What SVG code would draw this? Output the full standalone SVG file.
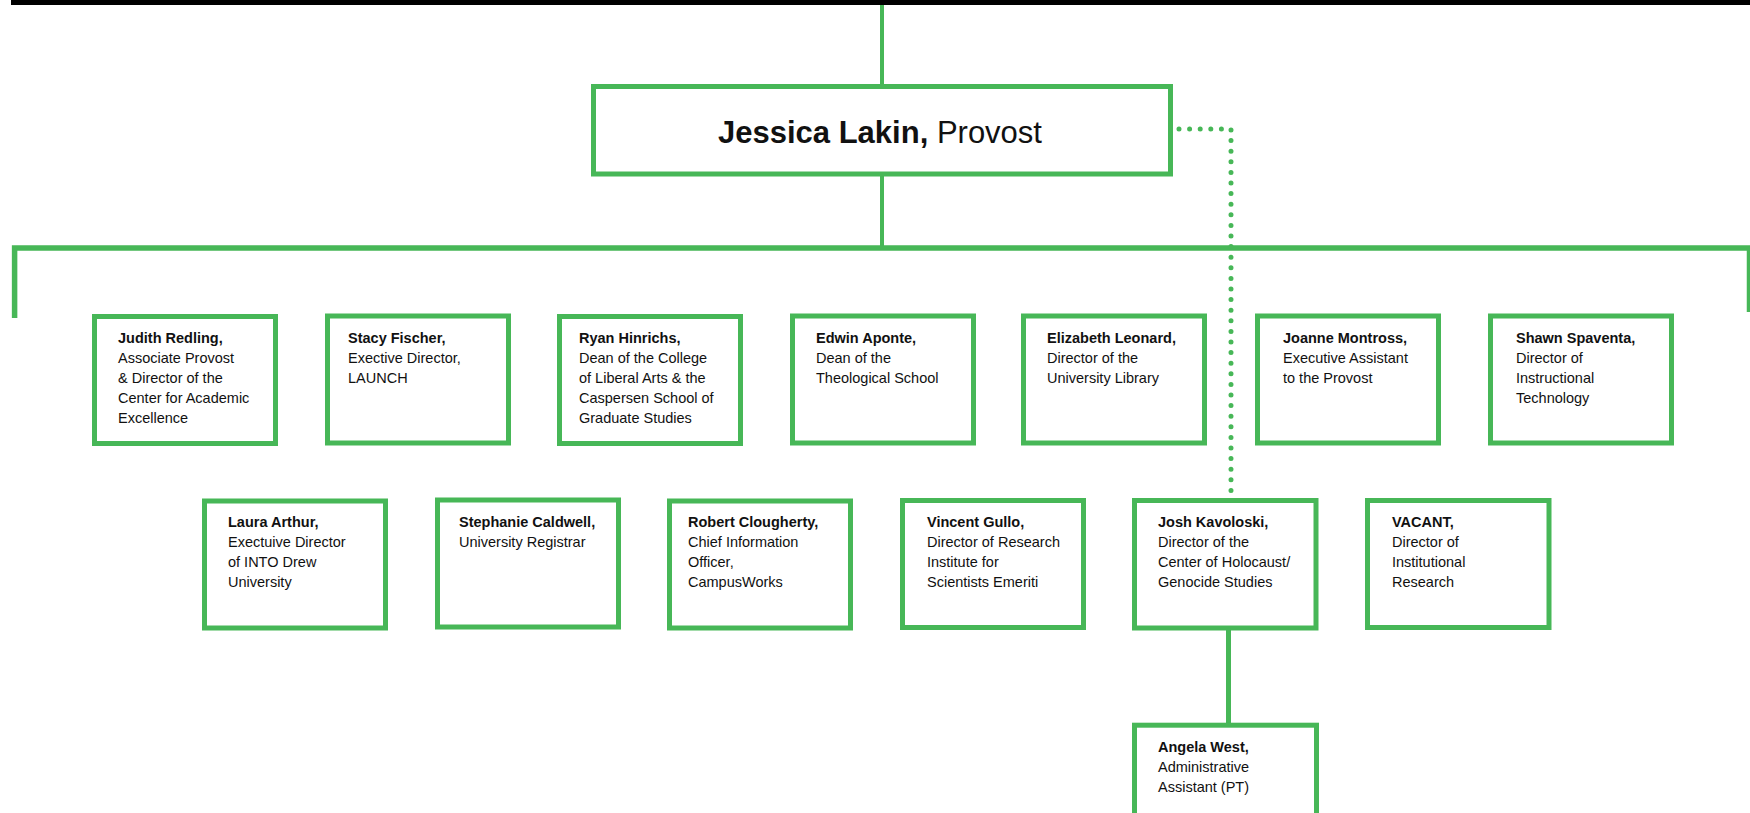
<svg xmlns="http://www.w3.org/2000/svg" width="1750" height="813" viewBox="0 0 1750 813">
<style>
.box{fill:#fff;stroke:#47b757;stroke-width:5}
.ln{stroke:#47b757;fill:none}
.t{font-family:"Liberation Sans",Arial,sans-serif;font-size:14.5px;fill:#111}
.b{font-weight:bold}
.pv{font-family:"Liberation Sans",Arial,sans-serif;font-size:31px;fill:#111}
</style>
<rect x="11" y="0" width="1739" height="5" fill="#000"/>
<g id="connectors">
<line class="ln" x1="882" y1="5" x2="882" y2="87" stroke-width="4"/>
<line class="ln" x1="882" y1="174" x2="882" y2="246" stroke-width="4"/>
<polyline class="ln" points="14.6,318 14.6,248 1749.5,248 1749.5,312" stroke-width="5.5"/>
<polyline class="ln" points="1179,129 1231,129 1231,496" stroke-width="5" stroke-linecap="round" stroke-dasharray="0 10.6"/>
<line class="ln" x1="1228.5" y1="628" x2="1228.5" y2="725" stroke-width="5"/>
</g>
<g id="provost">
<rect class="box" x="593.5" y="86.5" width="577" height="87.5"/>
<text class="pv" x="880" y="143" text-anchor="middle"><tspan font-weight="bold">Jessica Lakin,</tspan> Provost</text>
</g>
<g id="judith">
<rect class="box" x="94.5" y="316.5" width="181" height="127"/>
<text class="t" x="118" y="343"><tspan class="b">Judith Redling,</tspan><tspan x="118" dy="20">Associate Provost</tspan><tspan x="118" dy="20">&amp; Director of the</tspan><tspan x="118" dy="20">Center for Academic</tspan><tspan x="118" dy="20">Excellence</tspan></text>
</g>
<g id="stacy">
<rect class="box" x="327.5" y="316" width="181" height="127"/>
<text class="t" x="348" y="343"><tspan class="b">Stacy Fischer,</tspan><tspan x="348" dy="20">Exective Director,</tspan><tspan x="348" dy="20">LAUNCH</tspan></text>
</g>
<g id="ryan">
<rect class="box" x="559.5" y="316.5" width="181" height="127"/>
<text class="t" x="579" y="343"><tspan class="b">Ryan Hinrichs,</tspan><tspan x="579" dy="20">Dean of the College</tspan><tspan x="579" dy="20">of Liberal Arts &amp; the</tspan><tspan x="579" dy="20">Caspersen School of</tspan><tspan x="579" dy="20">Graduate Studies</tspan></text>
</g>
<g id="edwin">
<rect class="box" x="792.5" y="316" width="181" height="127"/>
<text class="t" x="816" y="343"><tspan class="b">Edwin Aponte,</tspan><tspan x="816" dy="20">Dean of the</tspan><tspan x="816" dy="20">Theological School</tspan></text>
</g>
<g id="elizabeth">
<rect class="box" x="1023.5" y="316" width="181" height="127"/>
<text class="t" x="1047" y="343"><tspan class="b">Elizabeth Leonard,</tspan><tspan x="1047" dy="20">Director of the</tspan><tspan x="1047" dy="20">University Library</tspan></text>
</g>
<g id="joanne">
<rect class="box" x="1257.5" y="316" width="181" height="127"/>
<text class="t" x="1283" y="343"><tspan class="b">Joanne Montross,</tspan><tspan x="1283" dy="20">Executive Assistant</tspan><tspan x="1283" dy="20">to the Provost</tspan></text>
</g>
<g id="shawn">
<rect class="box" x="1490.5" y="316" width="181" height="127"/>
<text class="t" x="1516" y="343"><tspan class="b">Shawn Spaventa,</tspan><tspan x="1516" dy="20">Director of</tspan><tspan x="1516" dy="20">Instructional</tspan><tspan x="1516" dy="20">Technology</tspan></text>
</g>
<g id="laura">
<rect class="box" x="204.5" y="501" width="181" height="127"/>
<text class="t" x="228" y="527"><tspan class="b">Laura Arthur,</tspan><tspan x="228" dy="20">Exectuive Director</tspan><tspan x="228" dy="20">of INTO Drew</tspan><tspan x="228" dy="20">University</tspan></text>
</g>
<g id="stephanie">
<rect class="box" x="437.5" y="500" width="181" height="127"/>
<text class="t" x="459" y="527"><tspan class="b">Stephanie Caldwell,</tspan><tspan x="459" dy="20">University Registrar</tspan></text>
</g>
<g id="robert">
<rect class="box" x="669.5" y="501" width="181" height="127"/>
<text class="t" x="688" y="527"><tspan class="b">Robert Clougherty,</tspan><tspan x="688" dy="20">Chief Information</tspan><tspan x="688" dy="20">Officer,</tspan><tspan x="688" dy="20">CampusWorks</tspan></text>
</g>
<g id="vincent">
<rect class="box" x="902.5" y="500.5" width="181" height="127"/>
<text class="t" x="927" y="527"><tspan class="b">Vincent Gullo,</tspan><tspan x="927" dy="20">Director of Research</tspan><tspan x="927" dy="20">Institute for</tspan><tspan x="927" dy="20">Scientists Emeriti</tspan></text>
</g>
<g id="josh">
<rect class="box" x="1134.5" y="500.5" width="181.5" height="127.5"/>
<text class="t" x="1158" y="527"><tspan class="b">Josh Kavoloski,</tspan><tspan x="1158" dy="20">Director of the</tspan><tspan x="1158" dy="20">Center of Holocaust/</tspan><tspan x="1158" dy="20">Genocide Studies</tspan></text>
</g>
<g id="vacant">
<rect class="box" x="1367.5" y="500.5" width="181.5" height="127"/>
<text class="t" x="1392" y="527"><tspan class="b">VACANT,</tspan><tspan x="1392" dy="20">Director of</tspan><tspan x="1392" dy="20">Institutional</tspan><tspan x="1392" dy="20">Research</tspan></text>
</g>
<g id="angela">
<rect class="box" x="1134.5" y="725.2" width="182" height="120"/>
<text class="t" x="1158" y="752"><tspan class="b">Angela West,</tspan><tspan x="1158" dy="20">Administrative</tspan><tspan x="1158" dy="20">Assistant (PT)</tspan></text>
</g>
</svg>
